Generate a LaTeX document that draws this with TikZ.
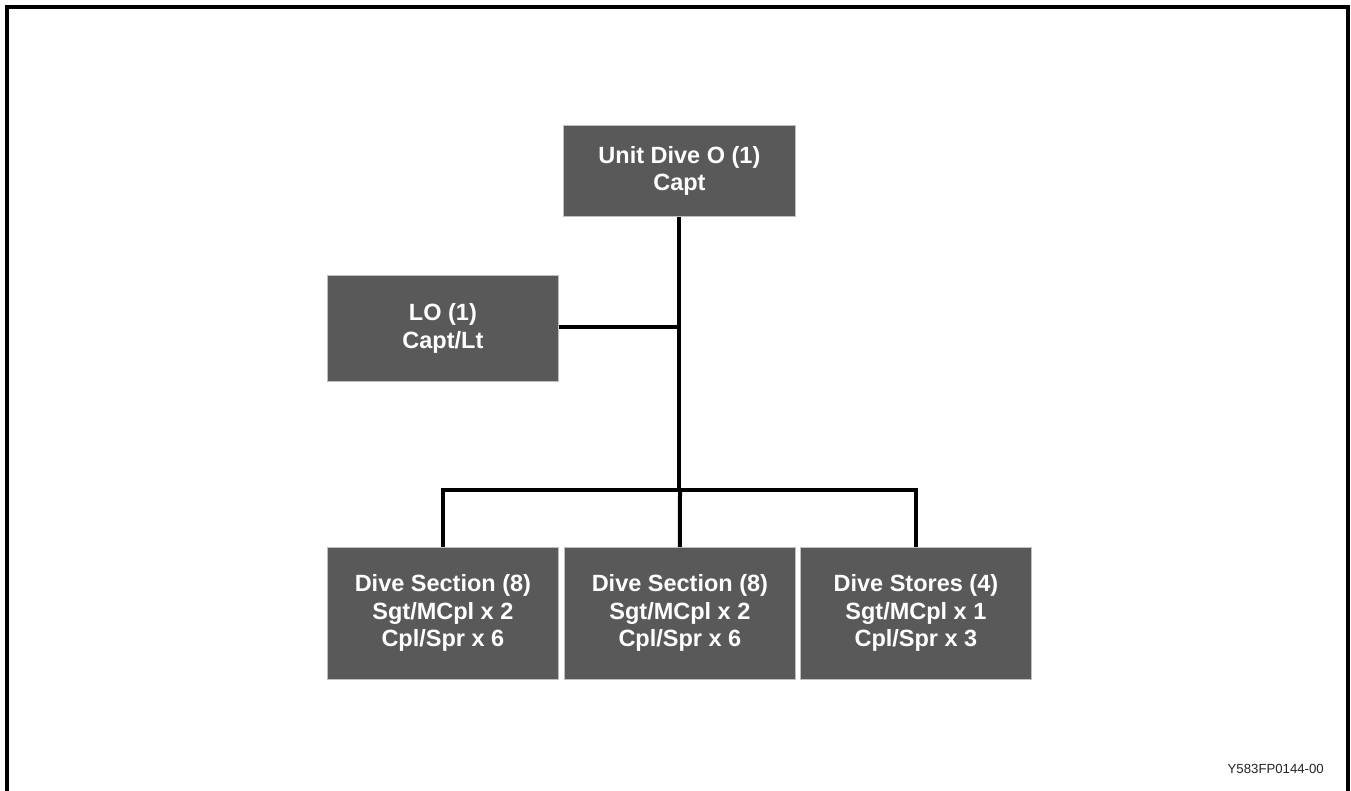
\documentclass[tikz,border=0pt]{standalone}
\usepackage{fontspec}
\setmainfont{Liberation Sans}
\begin{document}
\begin{tikzpicture}[x=1pt,y=-1pt,
  box/.style={draw=black!25,line width=0.8pt,fill=black!65,text=white,
    font=\bfseries\fontsize{23.5}{27.5}\selectfont,align=center,anchor=north west,inner sep=0pt},
  conn/.style={line width=4pt,black}]
\useasboundingbox (0,0) rectangle (1351,790);
\fill[white] (0,0) rectangle (1351,790);
\draw[line width=4.5pt] (7,792) -- (7,7) -- (1348,7) -- (1348,792);
\node[box,minimum width=232pt,minimum height=91pt] (top) at (563,125) {Unit Dive O (1)\\Capt};
\node[box,minimum width=231pt,minimum height=106pt] (lo) at (327,275) {LO (1)\\Capt/Lt};
\node[box,minimum width=231pt,minimum height=132pt] (s1) at (327,547) {Dive Section (8)\\Sgt/MCpl x 2\\Cpl/Spr x 6};
\node[box,minimum width=231pt,minimum height=132pt] (s2) at (564,547) {Dive Section (8)\\Sgt/MCpl x 2\\Cpl/Spr x 6};
\node[box,minimum width=231pt,minimum height=132pt] (s3) at (800,547) {Dive Stores (4)\\Sgt/MCpl x 1\\Cpl/Spr x 3};
\coordinate (j1) at (680,327);
\coordinate (j2) at (680,490);
\draw[conn] (top.south) -- (top.south |- j2);
\draw[conn] (lo.east |- j1) -- (j1);
\draw[conn] (s1.north) |- (j2) -| (s3.north);
\draw[conn] (j2) -- (s2.north);
\node[anchor=base east,font=\fontsize{13.2}{15}\selectfont,text=black!85,inner sep=0pt] (code) at (1324,773) {Y583FP0144-00};
\end{tikzpicture}
\end{document}
